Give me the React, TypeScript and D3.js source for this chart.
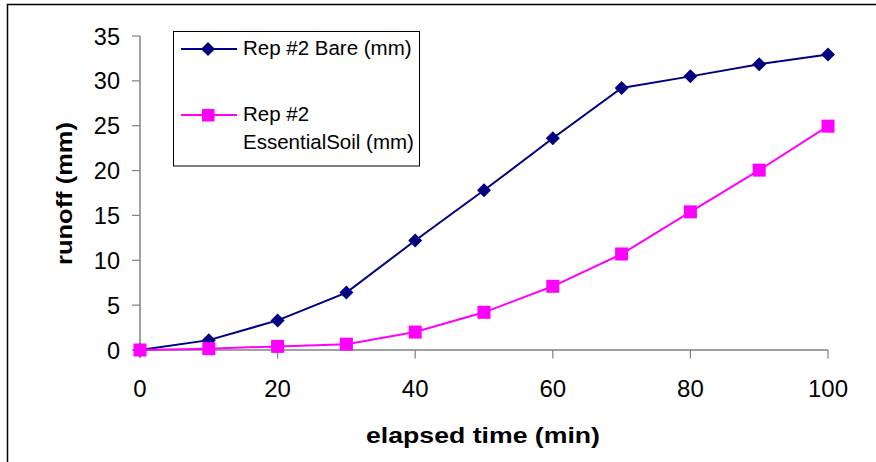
import React from "react";
import * as d3 from "d3";

const times = [0, 10, 20, 30, 40, 50, 60, 70, 80, 90, 100];
const bare = [0, 1.1, 3.3, 6.4, 12.2, 17.8, 23.6, 29.2, 30.5, 31.85, 32.95];
const essential = [0, 0.15, 0.4, 0.65, 2.0, 4.2, 7.1, 10.7, 15.4, 20.05, 24.95];
const xTicks = [0, 20, 40, 60, 80, 100];
const yTicks = [0, 5, 10, 15, 20, 25, 30, 35];
const seriesNames = ["Rep #2 Bare (mm)", "Rep #2", "EssentialSoil (mm)"];

const W = 876;
const H = 462;
const FONT = "'Liberation Sans', Arial, sans-serif";

export default function App() {
  const x = d3.scaleLinear().domain([0, 100]).range([140, 828]);
  const y = d3.scaleLinear().domain([0, 35]).range([350, 36]);
  const line = d3
    .line<[number, number]>()
    .x((d) => x(d[0]))
    .y((d) => y(d[1]));
  const bareData: [number, number][] = times.map((t, i) => [t, bare[i]]);
  const essData: [number, number][] = times.map((t, i) => [t, essential[i]]);
  const diamond = (cx: number, cy: number, r: number) =>
    `M${cx},${cy - r}L${cx + r},${cy}L${cx},${cy + r}L${cx - r},${cy}Z`;
  const axisColor = "#808080";

  return (
    <div style={{ position: "fixed", left: 0, top: 0, width: W, height: H, background: "#fff" }}>
      <svg width={W} height={H} style={{ display: "block" }} fontFamily={FONT}>
        <rect x={0} y={0} width={W} height={H} fill="#fff" />
        <rect x={7.5} y={4.5} width={W + 20} height={H + 20} fill="none" stroke="#000" strokeWidth={1.5} />

        {/* y axis */}
        <line x1={140} x2={140} y1={y(35)} y2={y(0)} stroke={axisColor} strokeWidth={1.5} />
        {yTicks.map((t) => (
          <g key={"y" + t}>
            <line x1={132} x2={140} y1={y(t)} y2={y(t)} stroke={axisColor} strokeWidth={1.2} />
            <text x={120} y={y(t) + 8.5} textAnchor="end" fontSize={23.5} fill="#000">
              {t}
            </text>
          </g>
        ))}
        {/* x axis */}
        <line x1={x(0)} x2={x(100)} y1={350} y2={350} stroke={axisColor} strokeWidth={1.5} />
        {xTicks.map((t) => (
          <g key={"x" + t}>
            <line x1={x(t)} x2={x(t)} y1={350} y2={358.5} stroke={axisColor} strokeWidth={1.2} />
            <text x={x(t)} y={397} textAnchor="middle" fontSize={24} fill="#000">
              {t}
            </text>
          </g>
        ))}

        {/* titles */}
        <text
          x={483}
          y={442.5}
          textAnchor="middle"
          fontSize={21.5}
          fontWeight="bold"
          textLength={234}
          lengthAdjust="spacingAndGlyphs"
        >
          elapsed time (min)
        </text>
        <text
          transform={`translate(72,193.5) rotate(-90)`}
          textAnchor="middle"
          fontSize={21.5}
          fontWeight="bold"
          textLength={143}
          lengthAdjust="spacingAndGlyphs"
        >
          runoff (mm)
        </text>

        {/* series */}
        <path d={line(bareData) || ""} fill="none" stroke="#000080" strokeWidth={2} />
        <path d={line(essData) || ""} fill="none" stroke="#FF00FF" strokeWidth={2} />
        {bareData.map((d, i) => (
          <path key={"b" + i} d={diamond(x(d[0]), y(d[1]), 7)} fill="#000080" />
        ))}
        {essData.map((d, i) => (
          <rect key={"e" + i} x={x(d[0]) - 6.5} y={y(d[1]) - 6.5} width={13} height={13} fill="#FF00FF" />
        ))}

        {/* legend */}
        <rect x={173.5} y={31.5} width={246} height={134.5} fill="#fff" stroke="#000" strokeWidth={1} />
        <line x1={181} x2={237} y1={49} y2={49} stroke="#000080" strokeWidth={2} />
        <path d={diamond(208, 49, 7)} fill="#000080" />
        <text x={243} y={55} fontSize={20.5} fill="#000">
          {seriesNames[0]}
        </text>
        <line x1={181} x2={237} y1={115} y2={115} stroke="#FF00FF" strokeWidth={2} />
        <rect x={202} y={109} width={12.5} height={12.5} fill="#FF00FF" />
        <text x={243} y={121} fontSize={20.5} fill="#000">
          {seriesNames[1]}
        </text>
        <text x={243} y={148.5} fontSize={20.5} fill="#000">
          {seriesNames[2]}
        </text>
      </svg>
    </div>
  );
}
